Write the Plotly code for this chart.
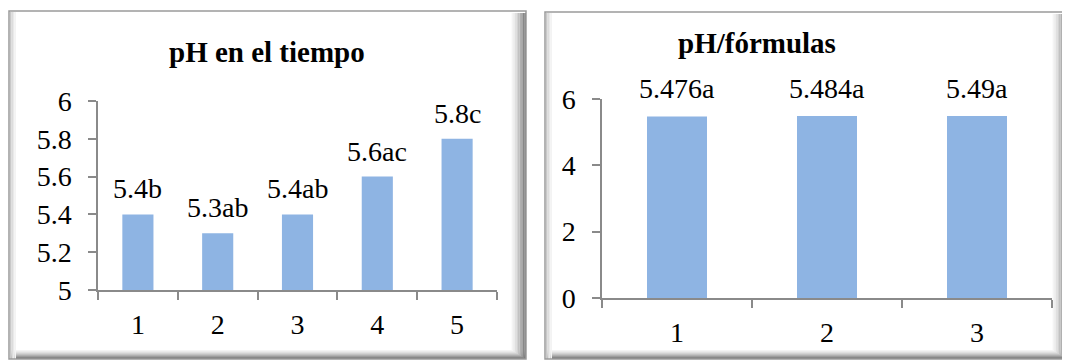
import plotly.graph_objects as go

# ---- data ----
time_categories = ["1", "2", "3", "4", "5"]
time_values = [5.4, 5.3, 5.4, 5.6, 5.8]
time_labels = ["5.4b", "5.3ab", "5.4ab", "5.6ac", "5.8c"]

formula_categories = ["1", "2", "3"]
formula_values = [5.476, 5.484, 5.49]
formula_labels = ["5.476a", "5.484a", "5.49a"]

left_title = "pH en el tiempo"
right_title = "pH/fórmulas"

OFF = 8  # page body margin
W, H = 1070 - OFF, 362 - OFF
FONT = "Liberation Serif"
BAR = "#8eb4e3"
AX = "#8a8a8a"
FS = 28

def px(x):
    return (x - OFF) / W

def py(y):
    return 1 - (y - OFF) / H

fig = go.Figure()
fig.add_trace(go.Bar(x=time_categories, y=time_values, marker_color=BAR,
                     width=0.39, xaxis="x", yaxis="y", hoverinfo="skip"))
fig.add_trace(go.Bar(x=formula_categories, y=formula_values, marker_color=BAR,
                     width=0.4, xaxis="x2", yaxis="y2", hoverinfo="skip"))

annotations = []
for i, (v, t) in enumerate(zip(time_values, time_labels)):
    annotations.append(dict(x=i, y=v, xref="x", yref="y", text=t, showarrow=False,
                            yanchor="bottom", yshift=8,
                            font=dict(family=FONT, size=FS, color="black")))
for i, (v, t) in enumerate(zip(formula_values, formula_labels)):
    annotations.append(dict(x=i, y=v, xref="x2", yref="y2", text=t, showarrow=False,
                            yanchor="bottom", yshift=10,
                            font=dict(family=FONT, size=FS, color="black")))
annotations.append(dict(x=px(267), y=py(52), xref="paper", yref="paper", text="<b>%s</b>" % left_title,
                        showarrow=False, xanchor="center", yanchor="middle",
                        font=dict(family=FONT, size=29, color="black")))
annotations.append(dict(x=px(757), y=py(43), xref="paper", yref="paper", text="<b>%s</b>" % right_title,
                        showarrow=False, xanchor="center", yanchor="middle",
                        font=dict(family=FONT, size=29, color="black")))

# frames (decorative bevel)
shapes = []
def frame(x0, y0, x1, y1):
    greys = ["#f4f4f4", "#ebebeb", "#e0e0e0", "#d2d2d2", "#c2c2c2", "#b0b0b0", "#9c9c9c", "#888888", "#777777"]
    n = len(greys)
    for i, g in enumerate(greys):
        shapes.append(dict(type="rect", xref="paper", yref="paper",
                           x0=px(x1 - (n - i) * 1.6), x1=px(x1 - (n - i - 1) * 1.6),
                           y0=py(y1), y1=py(y0 + 2), line=dict(width=0), fillcolor=g, layer="below"))
        shapes.append(dict(type="rect", xref="paper", yref="paper",
                           x0=px(x0 + 2), x1=px(x1),
                           y0=py(y1 - (n - i - 1) * 1.0), y1=py(y1 - (n - i) * 1.0),
                           line=dict(width=0), fillcolor=g, layer="below"))
    lg = ["#c8c8c8", "#dcdcdc", "#e9e9e9", "#f3f3f3"]
    for i, g in enumerate(lg):
        shapes.append(dict(type="rect", xref="paper", yref="paper",
                           x0=px(x0 + 1 + i * 1.5), x1=px(x0 + 1 + (i + 1) * 1.5),
                           y0=py(y1), y1=py(y0 + 1), line=dict(width=0), fillcolor=g, layer="below"))
    shapes.append(dict(type="rect", xref="paper", yref="paper",
                       x0=px(x0), x1=px(x1), y0=py(y1), y1=py(y0),
                       line=dict(color="#9a9a9a", width=1.5), fillcolor="rgba(0,0,0,0)", layer="below"))

frame(9, 11, 526, 359)
frame(545, 12, 1067, 359)

axis_common = dict(showgrid=False, zeroline=False, showline=True, linecolor=AX, linewidth=1.5,
                   ticks="outside", ticklen=8, tickcolor=AX, tickwidth=1.5, automargin=False,
                   tickfont=dict(family=FONT, size=FS, color="black"), fixedrange=True)

fig.update_layout(
    template="none",
    width=W, height=H,
    margin=dict(l=0, r=0, t=0, b=0, pad=0, autoexpand=False),
    paper_bgcolor="white", plot_bgcolor="rgba(0,0,0,0)",
    font=dict(family=FONT, size=FS, color="black"),
    showlegend=False,
    xaxis=dict(domain=[px(98), px(497)], anchor="y", type="category", tickson="boundaries",
               range=[-0.5, 4.5], ticklabelstandoff=9, **axis_common),
    yaxis=dict(domain=[py(290), py(101)], anchor="x", range=[5, 6], dtick=0.2, tick0=5,
               ticklabelstandoff=11, **axis_common),
    xaxis2=dict(domain=[px(602), px(1052)], anchor="y2", type="category", tickson="boundaries",
                range=[-0.5, 2.5], ticklabelstandoff=9, **axis_common),
    yaxis2=dict(domain=[py(298), py(99)], anchor="x2", range=[0, 6], dtick=2,
                ticklabelstandoff=11, **axis_common),
    annotations=annotations,
    shapes=shapes,
    bargap=0.6,
)

fig.write_html("out.html")
